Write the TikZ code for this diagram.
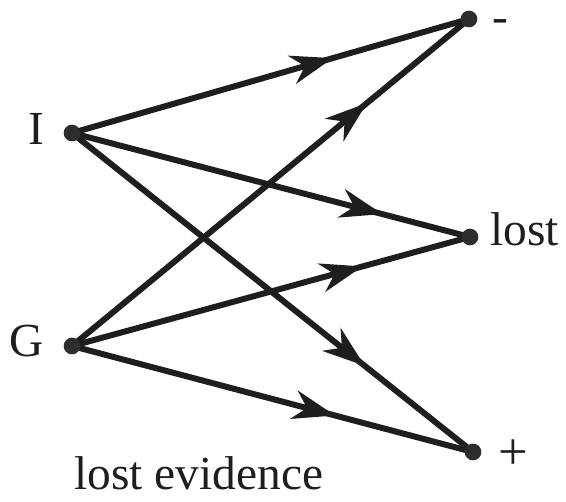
\documentclass[tikz,border=0pt]{standalone}
\usepackage{fontspec}
\setmainfont{Liberation Serif}
\usetikzlibrary{arrows.meta,decorations.markings}
\definecolor{ink}{RGB}{30,30,30}
\definecolor{dotc}{RGB}{45,45,45}
\tikzset{
  pt/.style={circle,fill=dotc,inner sep=0pt,minimum size=9.5pt},
  lbl/.style={font=\fontsize{27}{32}\selectfont,text=ink,inner sep=0pt},
  edge/.style={draw=ink,line width=3.4pt},
  midarrow/.style={postaction={decorate},decoration={markings,
    mark=at position #1 with {\arrow{Stealth[length=24pt,width=16.5pt,inset=7.5pt]}}}}
}
\begin{document}
\begin{tikzpicture}[x=0.02cm,y=-0.02cm]
\useasboundingbox[fill=white] (0,0) rectangle (566,502);
\coordinate (I) at (72,133);
\coordinate (G) at (72,346);
\coordinate (M) at (469,19);
\coordinate (L) at (470,237);
\coordinate (P) at (473,452);
\draw[edge,midarrow=0.657,ink] (I) -- (M);
\draw[edge,midarrow=0.743,ink] (G) -- (M);
\draw[edge,midarrow=0.78,ink] (I) -- (L);
\draw[edge,midarrow=0.73,ink] (G) -- (L);
\draw[edge,midarrow=0.73,ink] (I) -- (P);
\draw[edge,midarrow=0.656,ink] (G) -- (P);
\node[pt] (dI) at (I) {};
\node[pt] (dG) at (G) {};
\node[pt] (dM) at (M) {};
\node[pt] (dL) at (L) {};
\node[pt] (dP) at (P) {};
\node[lbl,anchor=base] (tI) at (36,145) {I};
\node[lbl,anchor=base] (tG) at (27,357) {G};
\node[lbl,anchor=center,text height=4pt,text depth=0pt] (tM) at (500,16) {\raisebox{-7.2pt}{-}};
\node[lbl,anchor=base west] (tL) at (490,246) {lost};
\node[lbl,anchor=base] (tP) at (513,470) {\fontsize{30}{32}\selectfont +};
\node[lbl,anchor=base west] (tE) at (74,490) {lost evidence};
\end{tikzpicture}
\end{document}
